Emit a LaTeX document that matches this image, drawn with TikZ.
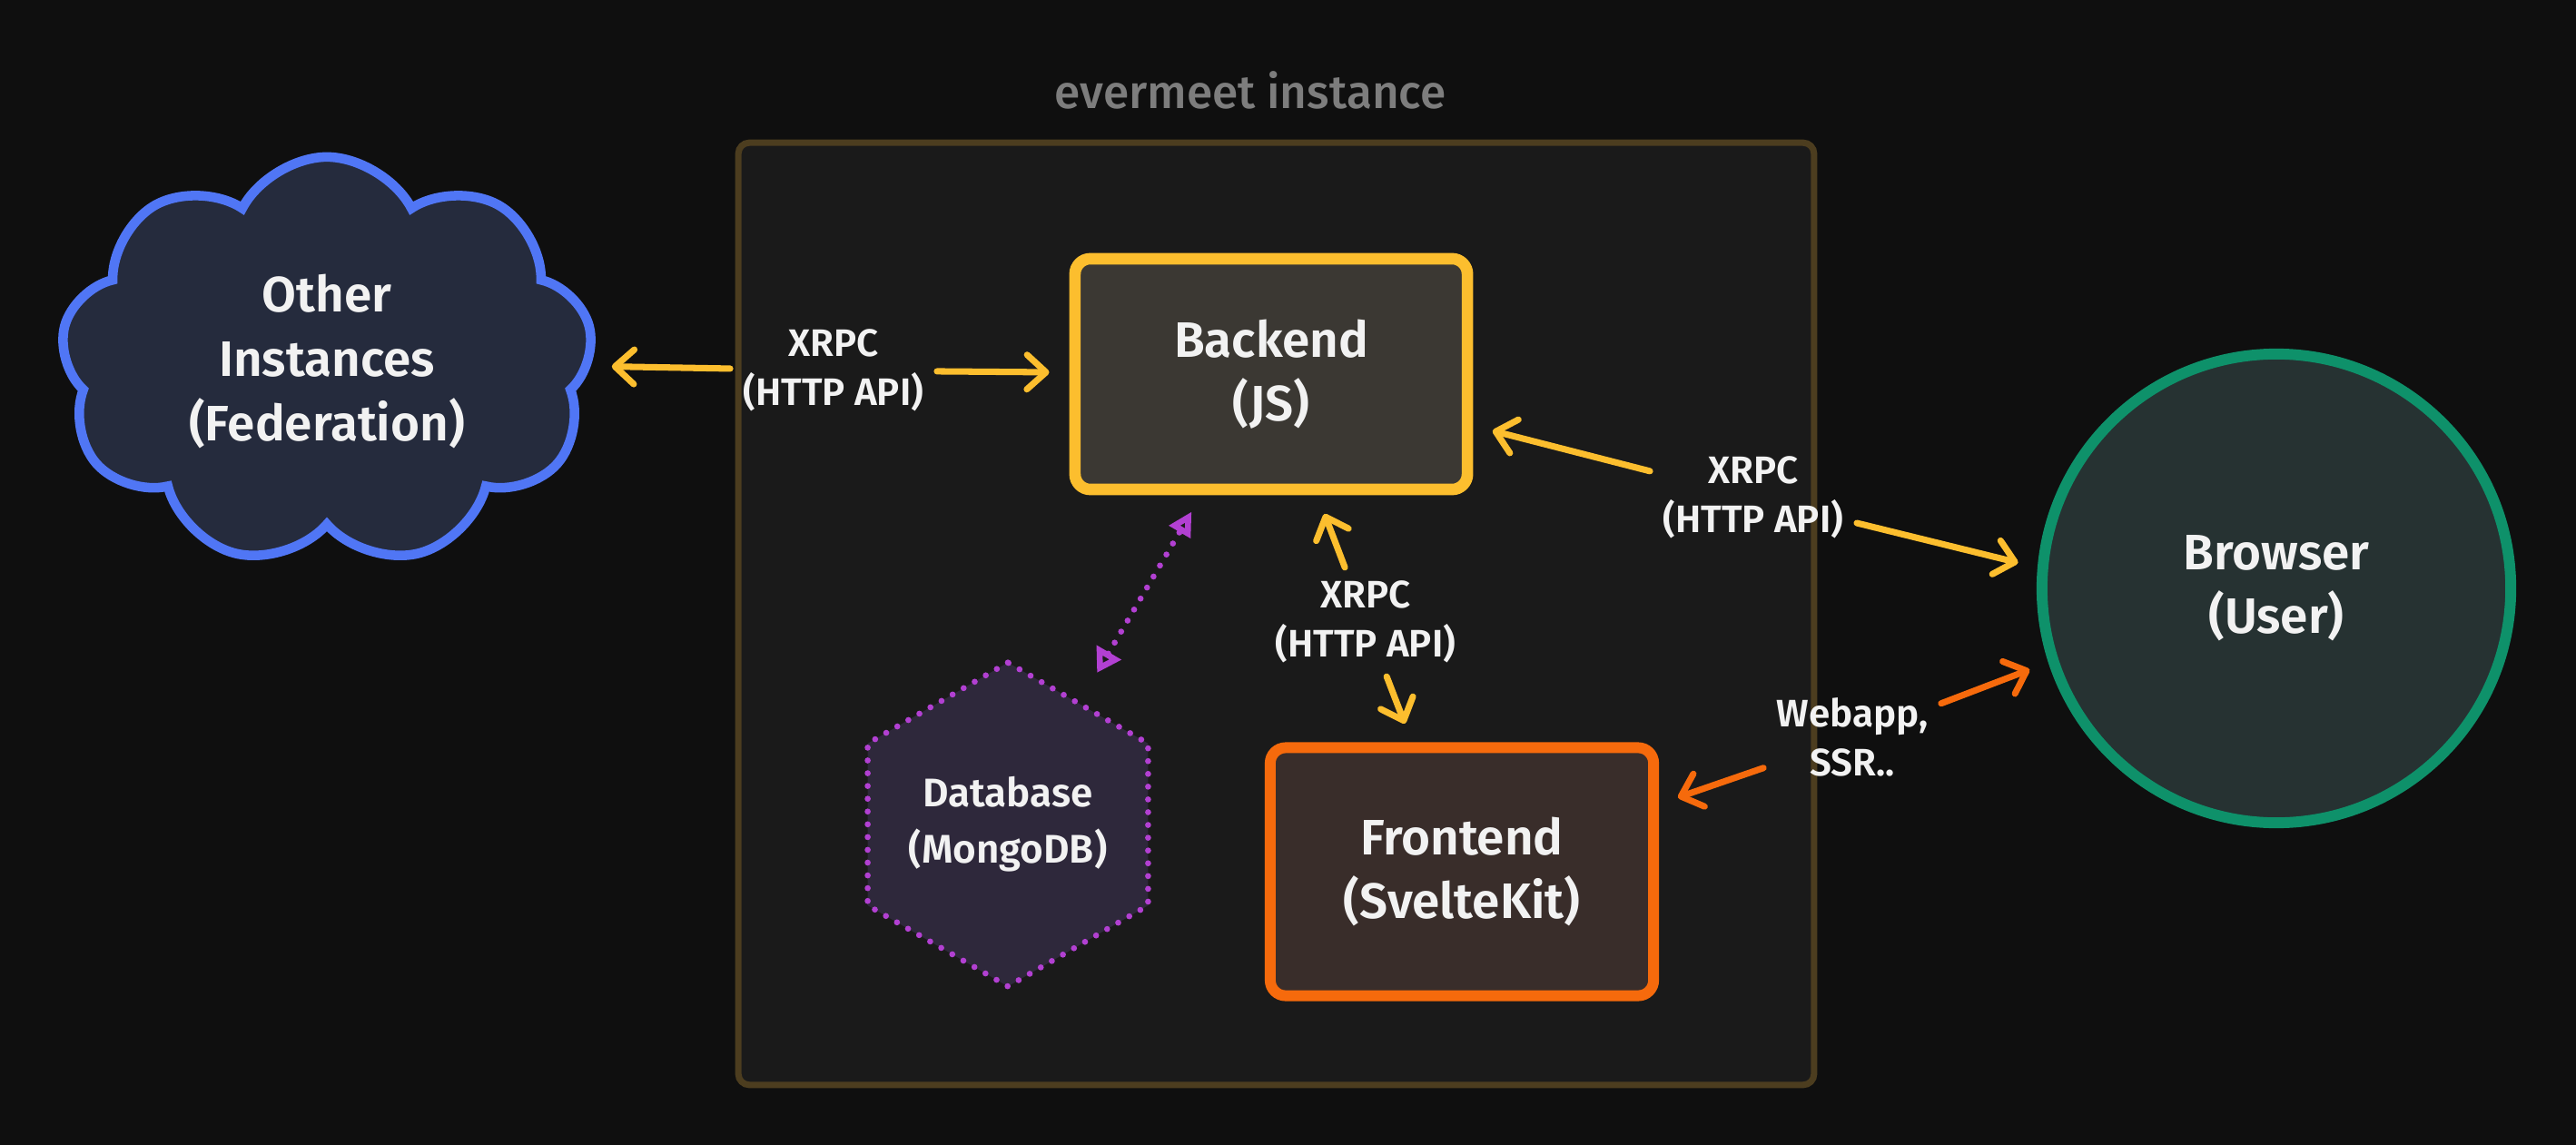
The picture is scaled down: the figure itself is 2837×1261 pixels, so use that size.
\documentclass[tikz,border=0pt]{standalone}
\usepackage{fontspec}
\setmainfont{Fira Sans}[BoldFont={Fira Sans SemiBold}]
\newfontfamily\titlefont{Fira Sans Medium}
\usetikzlibrary{arrows.meta,shapes.geometric,shapes.symbols}
\definecolor{canvas}{RGB}{15,15,15}
\definecolor{panel}{RGB}{26,26,26}
\definecolor{panelline}{RGB}{76,61,31}
\definecolor{caption}{RGB}{125,125,125}
\definecolor{ink}{RGB}{242,242,242}
\definecolor{fedfill}{RGB}{37,43,61}
\definecolor{fedline}{RGB}{80,118,245}
\definecolor{backfill}{RGB}{59,56,51}
\definecolor{backline}{RGB}{252,190,46}
\definecolor{frontfill}{RGB}{57,45,42}
\definecolor{frontline}{RGB}{246,106,12}
\definecolor{dbfill}{RGB}{46,40,59}
\definecolor{dbline}{RGB}{178,64,210}
\definecolor{userfill}{RGB}{38,50,50}
\definecolor{userline}{RGB}{14,145,106}

\begin{document}
\begin{tikzpicture}[x=0.01cm, y=-0.01cm,
      box/.style={draw, line width=3.6pt, rounded corners=0.17cm, align=center, text=ink, font=\bfseries\fontsize{15.6}{19.9}\selectfont},
      tag/.style={align=center, text=ink, inner sep=4pt, font=\bfseries\fontsize{12}{15.4}\selectfont},
      arrow/.style={-{Straight Barb[round, length=2.1mm, width=3.8mm]}, line width=2pt, line cap=round, shorten >=0.22cm},
      dots/.style={line width=1.9pt, dash pattern=on 0pt off 4pt, line cap=round}
    ]
      \fill[canvas] (0,0) rectangle (2837,1261);
      \useasboundingbox (0,0) rectangle (2837,1261);

      % Instance
      \node[draw=panelline, fill=panel, line width=2pt, rounded corners=0.12cm, minimum width=11.84cm, minimum height=10.37cm] (instance) at (1405.5,676) {};
      \node[text=caption, font=\titlefont\fontsize{14.6}{17}\selectfont] (title) at (1377,99) {evermeet instance};

      % Federation
      \node[cloud, cloud puffs=9, cloud puff arc=125, aspect=1.3, draw=fedline, fill=fedfill, line width=3pt, minimum width=5.86cm, minimum height=4.5cm, align=center, text=ink, font=\bfseries\fontsize{15.6}{20.2}\selectfont] (fed) at (360,398) {Other\\Instances\\(Federation)};

      % Services
      \node[box, draw=backline, fill=backfill, minimum width=4.32cm, minimum height=2.54cm] (backend) at (1400,412) {Backend\\(JS)};
      \node[box, draw=frontline, fill=frontfill, line width=3.4pt, minimum width=4.22cm, minimum height=2.73cm] (frontend) at (1610,960) {Frontend\\(SvelteKit)};
      \node[regular polygon, regular polygon sides=6, shape border rotate=30, draw=dbline, fill=dbfill, dots, minimum size=3.56cm, inner sep=0pt, align=center, text=ink, font=\bfseries\fontsize{12.5}{17.6}\selectfont] (database) at (1110,908) {Database\\(MongoDB)};

      % User
      \node[circle, draw=userline, fill=userfill, line width=3.4pt, minimum size=5.16cm, align=center, text=ink, font=\bfseries\fontsize{15.6}{19.9}\selectfont] (browser) at (2507,648) {Browser\\(User)};

      % Labels
      \node[tag] (xrpcfed) at (918,408) {XRPC\\(HTTP API)};
      \node[tag] (xrpcuser) at (1931,548) {XRPC\\(HTTP API)};
      \node[tag] (xrpcfront) at (1504,685) {XRPC\\(HTTP API)};
      \node[tag] (webapp) at (2040,812) {Webapp,\\SSR..};

      % Arrows
      \draw[arrow, backline] (xrpcfed) -- (fed);
      \draw[arrow, backline] (xrpcfed) -- (backend);
      \draw[arrow, backline] (xrpcuser) -- (backend);
      \draw[arrow, backline] (xrpcuser) -- (browser.175);
      \draw[arrow, backline] (xrpcfront) -- (backend);
      \draw[arrow, backline] (xrpcfront) -- (frontend);
      \draw[arrow, frontline] (webapp) -- (frontend);
      \draw[arrow, frontline] (webapp) -- (browser.198);
      \draw[dbline, dots, {Triangle[open, length=2.6mm, width=3mm]}-{Triangle[open, length=2.6mm, width=2.6mm]}, shorten <=0.36cm, shorten >=0.21cm] (database) -- (backend.240);
    \end{tikzpicture}
\end{document}
